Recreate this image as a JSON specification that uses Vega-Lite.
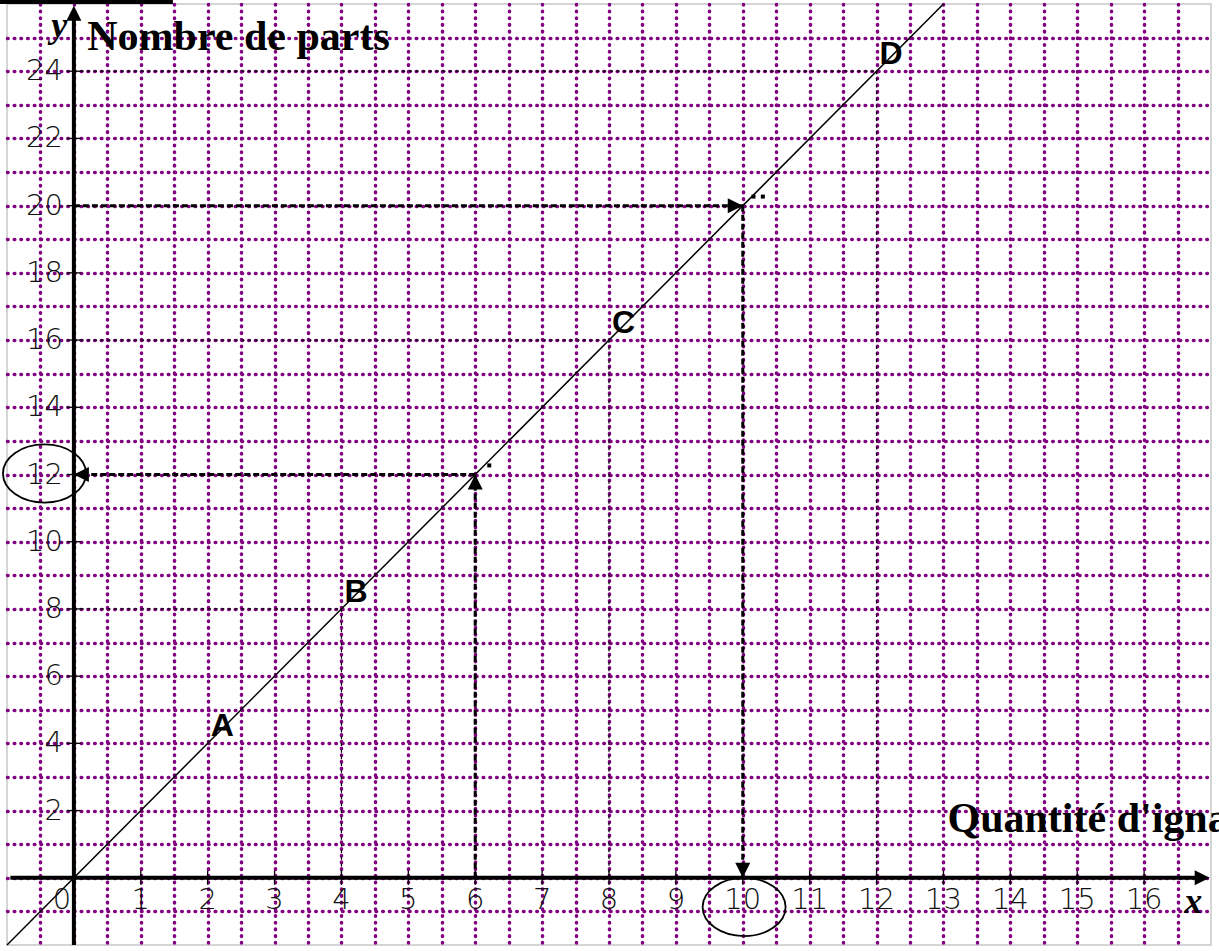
{
  "$schema": "https://vega.github.io/schema/vega-lite/v6.json",
  "width": 1204,
  "height": 941,
  "autosize": {"type": "none"},
  "padding": {"left": 7, "top": 4, "right": 8, "bottom": 6},
  "background": "white",
  "config": {"view": {"stroke": "#c8c8c8", "strokeWidth": 1.5}},
  "datasets": {
    "helpers": [
      {"x": 0, "y": 24, "x2": 12, "y2": 24},
      {"x": 12, "y": 24, "x2": 12, "y2": 0},
      {"x": 0, "y": 16, "x2": 8, "y2": 16},
      {"x": 8, "y": 16, "x2": 8, "y2": 0},
      {"x": 0, "y": 8, "x2": 4, "y2": 8},
      {"x": 4, "y": 8, "x2": 4, "y2": 0}
    ],
    "diag": [{"x": -1, "y": -2}, {"x": 13, "y": 26}],
    "axes": [
      {"x": -0.95, "y": 0, "x2": 16.85, "y2": 0},
      {"x": 0, "y": -2, "x2": 0, "y2": 25.6}
    ],
    "xticks": [
      {"x": 1, "y": 0}, {"x": 2, "y": 0}, {"x": 3, "y": 0}, {"x": 4, "y": 0},
      {"x": 5, "y": 0}, {"x": 6, "y": 0}, {"x": 7, "y": 0}, {"x": 8, "y": 0},
      {"x": 9, "y": 0}, {"x": 10, "y": 0}, {"x": 11, "y": 0}, {"x": 12, "y": 0},
      {"x": 13, "y": 0}, {"x": 14, "y": 0}, {"x": 15, "y": 0}, {"x": 16, "y": 0}
    ],
    "yticks": [
      {"x": 0, "y": 2}, {"x": 0, "y": 4}, {"x": 0, "y": 6}, {"x": 0, "y": 8},
      {"x": 0, "y": 10}, {"x": 0, "y": 12}, {"x": 0, "y": 14}, {"x": 0, "y": 16},
      {"x": 0, "y": 18}, {"x": 0, "y": 20}, {"x": 0, "y": 22}, {"x": 0, "y": 24}
    ],
    "arrows": [
      {"x": 6, "y": 0, "x2": 6, "y2": 12},
      {"x": 6, "y": 12, "x2": 0, "y2": 12},
      {"x": 0, "y": 20, "x2": 10, "y2": 20},
      {"x": 10, "y": 20, "x2": 10, "y2": 0}
    ],
    "heads": [
      {"x": 0, "y": 12, "dir": "left"},
      {"x": 6, "y": 12, "dir": "up"},
      {"x": 10, "y": 20, "dir": "right"},
      {"x": 10, "y": 0, "dir": "down"},
      {"x": 0, "y": 25.95, "dir": "up"},
      {"x": 16.98, "y": 0, "dir": "right"}
    ],
    "ellipses": [
      {"x": -0.44, "y": 12.03},
      {"x": 10.02, "y": -0.87}
    ],
    "specks": [
      {"x": 6.21, "y": 12.27},
      {"x": 10.16, "y": 20.27},
      {"x": 10.3, "y": 20.27}
    ],
    "xlabels": [
      {"x": 1, "y": 0, "t": "1"}, {"x": 2, "y": 0, "t": "2"}, {"x": 3, "y": 0, "t": "3"},
      {"x": 4, "y": 0, "t": "4"}, {"x": 5, "y": 0, "t": "5"}, {"x": 6, "y": 0, "t": "6"},
      {"x": 7, "y": 0, "t": "7"}, {"x": 8, "y": 0, "t": "8"}, {"x": 9, "y": 0, "t": "9"},
      {"x": 10, "y": 0, "t": "10"}, {"x": 11, "y": 0, "t": "11"}, {"x": 12, "y": 0, "t": "12"},
      {"x": 13, "y": 0, "t": "13"}, {"x": 14, "y": 0, "t": "14"}, {"x": 15, "y": 0, "t": "15"},
      {"x": 16, "y": 0, "t": "16"}
    ],
    "zero": [{"x": 0, "y": 0, "t": "0"}],
    "ylabels": [
      {"x": 0, "y": 2, "t": "2"}, {"x": 0, "y": 4, "t": "4"}, {"x": 0, "y": 6, "t": "6"},
      {"x": 0, "y": 8, "t": "8"}, {"x": 0, "y": 10, "t": "10"}, {"x": 0, "y": 12, "t": "12"},
      {"x": 0, "y": 14, "t": "14"}, {"x": 0, "y": 16, "t": "16"}, {"x": 0, "y": 18, "t": "18"},
      {"x": 0, "y": 20, "t": "20"}, {"x": 0, "y": 22, "t": "22"}, {"x": 0, "y": 24, "t": "24"}
    ],
    "points": [
      {"x": 2, "y": 4, "t": "A"},
      {"x": 4, "y": 8, "t": "B"},
      {"x": 8, "y": 16, "t": "C"},
      {"x": 12, "y": 24, "t": "D"}
    ],
    "titles": [
      {"x": 0.2, "y": 24.62, "t": "Nombre de parts"},
      {"x": 13.06, "y": 1.35, "t": "Quantité d'ignames"}
    ],
    "axisnames": [
      {"x": -0.34, "y": 25.02, "t": "y"},
      {"x": 16.6, "y": -1.06, "t": "x"}
    ],
    "topbar": [{"x": -1.15, "y": 26.06, "x2": 1.48, "y2": 26.06}]
  },
  "encoding": {
    "x": {
      "field": "x",
      "type": "quantitative",
      "scale": {"domain": [-1, 17], "nice": false, "zero": false},
      "axis": {
        "values": [-0.5, 0, 0.5, 1, 1.5, 2, 2.5, 3, 3.5, 4, 4.5, 5, 5.5, 6, 6.5, 7, 7.5, 8, 8.5, 9, 9.5, 10, 10.5, 11, 11.5, 12, 12.5, 13, 13.5, 14, 14.5, 15, 15.5, 16, 16.5],
        "grid": true,
        "gridColor": "#800080",
        "gridOpacity": 1,
        "gridWidth": 3.5,
        "gridDash": [0.6, 6.1],
        "gridCap": "round",
        "domain": false,
        "ticks": false,
        "labels": false,
        "title": null
      }
    },
    "y": {
      "field": "y",
      "type": "quantitative",
      "scale": {"domain": [-2, 26], "nice": false, "zero": false},
      "axis": {
        "values": [-1, 0, 1, 2, 3, 4, 5, 6, 7, 8, 9, 10, 11, 12, 13, 14, 15, 16, 17, 18, 19, 20, 21, 22, 23, 24, 25],
        "grid": true,
        "gridColor": "#800080",
        "gridOpacity": 1,
        "gridWidth": 3.5,
        "gridDash": [0.6, 6.1],
        "gridCap": "round",
        "domain": false,
        "ticks": false,
        "labels": false,
        "title": null
      }
    }
  },
  "layer": [
    {
      "data": {"name": "helpers"},
      "mark": {"type": "rule", "color": "black", "strokeWidth": 1.2, "strokeDash": [3, 3.7]},
      "encoding": {"x2": {"field": "x2"}, "y2": {"field": "y2"}}
    },
    {
      "data": {"name": "diag"},
      "mark": {"type": "line", "color": "black", "strokeWidth": 1.5},
      "encoding": {}
    },
    {
      "data": {"name": "axes"},
      "mark": {"type": "rule", "color": "black", "strokeWidth": 4},
      "encoding": {"x2": {"field": "x2"}, "y2": {"field": "y2"}}
    },
    {
      "data": {"name": "xticks"},
      "mark": {"type": "tick", "orient": "vertical", "color": "black", "size": 14, "thickness": 1.3, "opacity": 1},
      "encoding": {}
    },
    {
      "data": {"name": "yticks"},
      "mark": {"type": "tick", "orient": "horizontal", "color": "black", "size": 14, "thickness": 1.3, "opacity": 1},
      "encoding": {}
    },
    {
      "data": {"name": "arrows"},
      "mark": {"type": "rule", "color": "black", "strokeWidth": 3, "strokeDash": [6, 3]},
      "encoding": {"x2": {"field": "x2"}, "y2": {"field": "y2"}}
    },
    {
      "data": {"name": "heads"},
      "mark": {"type": "point", "filled": true, "color": "black", "opacity": 1, "size": 900, "strokeWidth": 0},
      "encoding": {
        "shape": {
          "field": "dir",
          "type": "nominal",
          "scale": {
            "domain": ["up", "down", "left", "right"],
            "range": ["M0,0L0.5,1L-0.5,1Z", "M0,0L0.5,-1L-0.5,-1Z", "M0,0L1,-0.5L1,0.5Z", "M0,0L-1,-0.5L-1,0.5Z"]
          },
          "legend": null
        }
      }
    },
    {
      "data": {"name": "ellipses"},
      "mark": {
        "type": "point",
        "shape": "M-1,0C-1,-0.387,-0.552,-0.7,0,-0.7C0.552,-0.7,1,-0.387,1,0C1,0.387,0.552,0.7,0,0.7C-0.552,0.7,-1,0.387,-1,0Z",
        "size": 6889,
        "filled": false,
        "stroke": "black",
        "strokeWidth": 1.8,
        "opacity": 1
      },
      "encoding": {}
    },
    {
      "data": {"name": "specks"},
      "mark": {"type": "point", "shape": "square", "filled": true, "color": "black", "opacity": 1, "size": 16},
      "encoding": {}
    },
    {
      "data": {"name": "topbar"},
      "mark": {"type": "rule", "color": "black", "strokeWidth": 4},
      "encoding": {"x2": {"field": "x2"}, "y2": {"field": "y2"}}
    },
    {
      "data": {"name": "xlabels"},
      "mark": {"type": "text", "font": "DejaVu Sans", "fontWeight": 200, "fontSize": 29, "align": "center", "baseline": "middle", "dy": 22, "color": "#111111"},
      "encoding": {"text": {"field": "t"}}
    },
    {
      "data": {"name": "zero"},
      "mark": {"type": "text", "font": "DejaVu Sans", "fontWeight": 200, "fontSize": 29, "align": "center", "baseline": "middle", "dx": -12, "dy": 22, "color": "#111111"},
      "encoding": {"text": {"field": "t"}}
    },
    {
      "data": {"name": "ylabels"},
      "mark": {"type": "text", "font": "DejaVu Sans", "fontWeight": 200, "fontSize": 29, "align": "right", "baseline": "middle", "dx": -11, "color": "#111111"},
      "encoding": {"text": {"field": "t"}}
    },
    {
      "data": {"name": "points"},
      "mark": {"type": "text", "font": "Liberation Sans", "fontWeight": "bold", "fontSize": 32, "align": "left", "baseline": "alphabetic", "dx": 3, "dy": -7, "color": "black"},
      "encoding": {"text": {"field": "t"}}
    },
    {
      "data": {"name": "titles"},
      "mark": {"type": "text", "font": "Liberation Serif", "fontWeight": "bold", "fontSize": 42, "align": "left", "baseline": "alphabetic", "color": "black"},
      "encoding": {"text": {"field": "t"}}
    },
    {
      "data": {"name": "axisnames"},
      "mark": {"type": "text", "font": "Liberation Serif", "fontWeight": "bold", "fontStyle": "italic", "fontSize": 36, "align": "left", "baseline": "alphabetic", "color": "black"},
      "encoding": {"text": {"field": "t"}}
    }
  ]
}
